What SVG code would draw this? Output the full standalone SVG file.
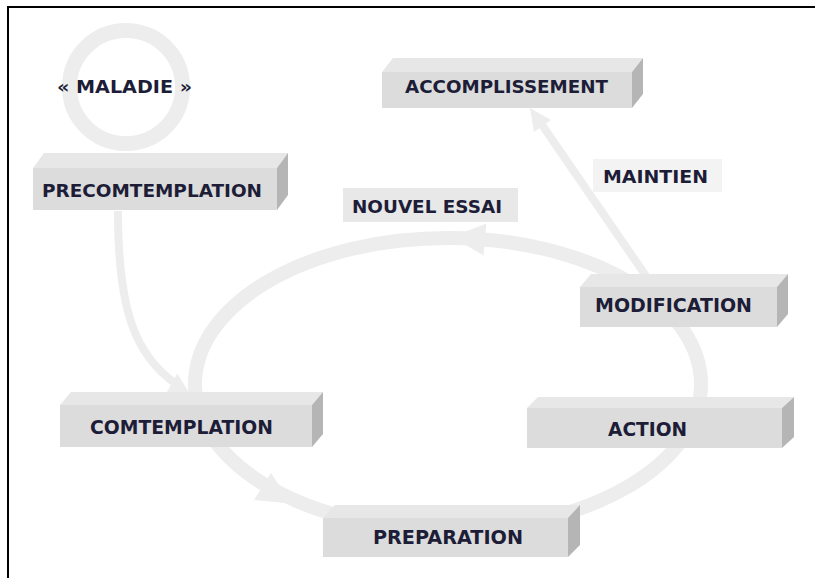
<svg xmlns="http://www.w3.org/2000/svg" width="815" height="578" viewBox="0 0 815 578">
<style>
.ring{fill:none;stroke:#ededed}
.head{fill:#ededed}
.front{fill:#dcdcdc}
.top{fill:#e7e7e7}
.side{fill:#b5b5b5}
.lbl{font-family:"DejaVu Sans","Verdana",sans-serif;font-weight:bold;font-size:18px;fill:#1d1d38;text-anchor:middle}
.big{font-size:20px}
</style>
<rect width="815" height="578" fill="#ffffff"/>
<path d="M8,578 V7 H815" fill="none" stroke="#000" stroke-width="2"/>
<g id="connectors">
<circle class="ring" cx="126" cy="87" r="56.5" stroke-width="15"/>
<ellipse class="ring" cx="448" cy="384" rx="253" ry="146" stroke-width="14"/>
<polygon class="head" points="486.4,223.6 452,236.8 483.6,255.6"/>
<polygon class="head" points="254,500 290.7,503.6 271,473"/>
<path class="ring" d="M118,211 C118,310 135,355 176,384" stroke-width="8"/>
<polygon class="head" points="166.7,392.6 190,394 177.3,373.4"/>
<line class="ring" x1="540" y1="122" x2="646" y2="276" stroke-width="8"/>
<polygon class="head" points="551,120 530,108 534,132"/>
</g>
<g id="maladie">
<text class="lbl" x="124.5" y="93" textLength="135" lengthAdjust="spacingAndGlyphs">« MALADIE »</text>
</g>
<g id="precomtemplation">
<polygon class="top" points="33,168 44,153 288,153 277,168"/>
<polygon class="side" points="277,168 288,153 288,195 277,210"/>
<rect class="front" x="33" y="168" width="244" height="42"/>
<text class="lbl" x="152" y="197" textLength="220" lengthAdjust="spacingAndGlyphs">PRECOMTEMPLATION</text>
</g>
<g id="accomplissement">
<polygon class="top" points="382,72 393,58 643,58 632,72"/>
<polygon class="side" points="632,72 643,58 643,94 632,108"/>
<rect class="front" x="382" y="72" width="250" height="36"/>
<text class="lbl" x="506.5" y="93" textLength="203" lengthAdjust="spacingAndGlyphs">ACCOMPLISSEMENT</text>
</g>
<g id="maintien">
<rect x="593" y="159" width="129" height="33" fill="#f3f3f3"/>
<text class="lbl" x="655.5" y="183" textLength="105" lengthAdjust="spacingAndGlyphs">MAINTIEN</text>
</g>
<g id="nouvel-essai">
<rect x="343" y="188" width="175" height="34" fill="#e8e8e8"/>
<text class="lbl" x="427" y="213" textLength="150" lengthAdjust="spacingAndGlyphs">NOUVEL ESSAI</text>
</g>
<g id="modification">
<polygon class="top" points="580,287 591,274 788,274 777,287"/>
<polygon class="side" points="777,287 788,274 788,314 777,327"/>
<rect class="front" x="580" y="287" width="197" height="40"/>
<text class="lbl" x="673.5" y="312" textLength="157" lengthAdjust="spacingAndGlyphs" style="font-size:19px">MODIFICATION</text>
</g>
<g id="comtemplation">
<polygon class="top" points="60,405 71,392 323,392 312,405"/>
<polygon class="side" points="312,405 323,392 323,434 312,447"/>
<rect class="front" x="60" y="405" width="252" height="42"/>
<text class="lbl big" x="181.5" y="434" textLength="183" lengthAdjust="spacingAndGlyphs">COMTEMPLATION</text>
</g>
<g id="action">
<polygon class="top" points="527,408 538,397 794,397 782,408"/>
<polygon class="side" points="782,408 794,397 794,437 782,448"/>
<rect class="front" x="527" y="408" width="255" height="40"/>
<text class="lbl big" x="647.5" y="436" textLength="79" lengthAdjust="spacingAndGlyphs">ACTION</text>
</g>
<g id="preparation">
<polygon class="top" points="323,518 335,505 580,505 568,518"/>
<polygon class="side" points="568,518 580,505 580,545 568,557"/>
<rect class="front" x="323" y="518" width="245" height="39"/>
<text class="lbl big" x="448" y="544" textLength="150" lengthAdjust="spacingAndGlyphs">PREPARATION</text>
</g>
</svg>
